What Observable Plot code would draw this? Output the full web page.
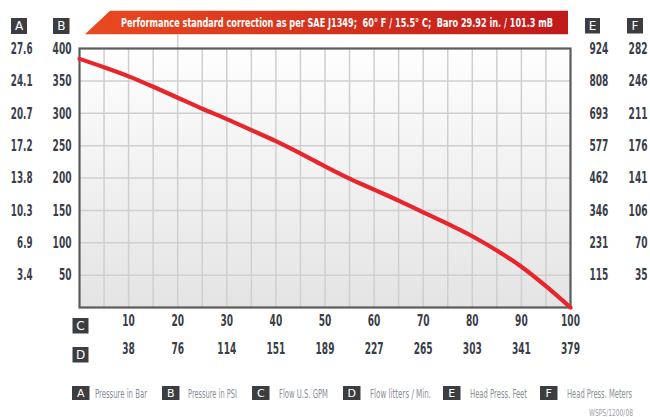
<!DOCTYPE html>
<html><head><meta charset="utf-8">
<script src="https://cdn.jsdelivr.net/npm/d3@7"></script>
<script src="https://cdn.jsdelivr.net/npm/@observablehq/plot@0.6"></script>
<style>
body{margin:0;background:#fff}
svg{display:block}
</style>
</head><body><div id="chart"></div>
<script>
// ---- data ----
const flowGPM      = [0, 5, 10, 15, 20, 25, 30, 35, 40, 45, 50, 55, 60, 65, 70, 75, 80, 85, 90, 95, 100];
const pressurePSI  = [384, 371, 357, 341, 324, 307, 291, 274, 257, 238, 218, 199, 182, 165, 147, 129, 110, 88, 63, 33, 0];
const psiTicks     = [50, 100, 150, 200, 250, 300, 350, 400];
const barLabels    = ["3.4", "6.9", "10.3", "13.8", "17.2", "20.7", "24.1", "27.6"];
const feetLabels   = ["115", "231", "346", "462", "577", "693", "808", "924"];
const meterLabels  = ["35", "70", "106", "141", "176", "211", "246", "282"];
const gpmTicks     = [10, 20, 30, 40, 50, 60, 70, 80, 90, 100];
const lpmLabels    = ["38", "76", "114", "151", "189", "227", "265", "303", "341", "379"];
const gridXTicks   = [5, 10, 15, 20, 25, 30, 35, 40, 45, 50, 55, 60, 65, 70, 75, 80, 85, 90, 95];
const titleText    = "Performance standard correction as per SAE J1349;  60° F / 15.5° C;  Baro 29.92 in. / 101.3 mB";
const legendKeys   = ["A", "B", "C", "D", "E", "F"];
const legendNames  = ["Pressure in Bar", "Pressure in PSI", "Flow U.S. GPM", "Flow litters / Min.", "Head Press. Feet", "Head Press. Meters"];
const footNote     = "WSPS/1200/08";

const curve = flowGPM.map((x, i) => ({x, y: pressurePSI[i]}));
const FONT = "'Liberation Sans Narrow','DejaVu Sans Condensed','Roboto Condensed',sans-serif";
const TICK = "#3a3d48";
const tickStyle = {fill: TICK, fontSize: 16.5, fontWeight: "bold"};

const chart = Plot.plot({
  width: 650, height: 417,
  marginTop: 48, marginLeft: 79, marginRight: 80, marginBottom: 110,
  x: {domain: [0, 100], axis: null},
  y: {domain: [0, 400], axis: null},
  style: {fontFamily: FONT, background: "#fff", overflow: "visible"},
  marks: [
    Plot.frame({fill: "url(#bgGrad)"}),
    Plot.gridX(gridXTicks, {stroke: "#cfcfcf", strokeOpacity: 1, strokeWidth: 1.5}),
    Plot.gridY(psiTicks.slice(0, -1), {stroke: "#cfcfcf", strokeOpacity: 1, strokeWidth: 1.5}),
    Plot.ruleX([20], {y1: 400, y2: 421, stroke: "#cfcfcf", strokeWidth: 1.5, clip: false}),
    Plot.frame({stroke: "#5b5b5b", strokeWidth: 2.2}),
    Plot.line(curve, {x: "x", y: "y", curve: "monotone-x", stroke: "#e8252a", strokeWidth: 4.2, strokeLinecap: "round"}),
    // left axes (A bar, B psi)
    Plot.text(psiTicks, {y: d => d, text: (d, i) => barLabels[i], frameAnchor: "left", dx: -47, textAnchor: "end", ...tickStyle}),
    Plot.text(psiTicks, {y: d => d, text: d => String(d), frameAnchor: "left", dx: -8, textAnchor: "end", ...tickStyle}),
    // right axes (E feet, F meters)
    Plot.text(psiTicks, {y: d => d, text: (d, i) => feetLabels[i], frameAnchor: "right", dx: 19, textAnchor: "start", ...tickStyle}),
    Plot.text(psiTicks, {y: d => d, text: (d, i) => meterLabels[i], frameAnchor: "right", dx: 77, textAnchor: "end", ...tickStyle}),
    // bottom axes (C gpm, D lpm)
    Plot.text(gpmTicks, {x: d => d, text: d => String(d), frameAnchor: "bottom", dy: 18, ...tickStyle}),
    Plot.text(gpmTicks, {x: d => d, text: (d, i) => lpmLabels[i], frameAnchor: "bottom", dy: 46, ...tickStyle})
  ]
});
document.getElementById("chart").appendChild(chart);

const svg = d3.select(chart);
// condense tick label glyphs to the narrow face of the original
svg.selectAll("g[aria-label='text'] text").each(function() {
  const s = this.textContent;
  let w = 0;
  for (const c of s) w += (c === "." ? 2.8 : 6.3);
  d3.select(this).attr("textLength", w).attr("lengthAdjust", "spacingAndGlyphs");
});

const defs = svg.insert("defs", ":first-child");
const bg = defs.append("linearGradient").attr("id", "bgGrad").attr("x1", 0).attr("y1", 0).attr("x2", 0).attr("y2", 1);
bg.append("stop").attr("offset", "0%").attr("stop-color", "#fefefe");
bg.append("stop").attr("offset", "100%").attr("stop-color", "#e4e4e4");
const rg = defs.append("linearGradient").attr("id", "banGrad").attr("x1", 0).attr("y1", 0).attr("x2", 1).attr("y2", 0);
rg.append("stop").attr("offset", "0%").attr("stop-color", "#ea4a1f");
rg.append("stop").attr("offset", "100%").attr("stop-color", "#c0191c");

// title banner
svg.append("polygon").attr("points", "85,34.3 110,10.7 568,10.7 568,34.3").attr("fill", "url(#banGrad)");
svg.append("text").attr("x", 121).attr("y", 27).attr("text-anchor", "start")
  .attr("textLength", 432).attr("lengthAdjust", "spacingAndGlyphs")
  .attr("font-family", FONT).attr("font-size", 13).attr("font-weight", "bold").attr("fill", "#fff")
  .text(titleText);

function badge(letter, x, y, w, h, fs) {
  svg.append("rect").attr("x", x).attr("y", y).attr("width", w).attr("height", h).attr("fill", "#3c3d40");
  svg.append("text").attr("x", x + w / 2).attr("y", y + h / 2 + fs * 0.36).attr("text-anchor", "middle")
    .attr("font-family", "'DejaVu Sans',sans-serif").attr("font-size", fs).attr("fill", "#fff").text(letter);
}
// axis badges
badge(legendKeys[0], 11, 18, 16, 16, 12);
badge(legendKeys[1], 53, 18, 16.5, 16, 12);
badge(legendKeys[4], 585, 18, 15, 15.5, 12);
badge(legendKeys[5], 627, 18, 16, 15.5, 12);
badge(legendKeys[2], 72.5, 318, 16, 15.5, 12);
badge(legendKeys[3], 72.5, 347, 16, 15.5, 12);

// legend row
const lgBadgeX = [72, 162, 252, 343, 443, 540];
const lgTextX  = [95, 188, 279, 370, 470, 567];
const lgTextW  = [52, 49, 49, 61, 57, 65];
legendKeys.forEach((k, i) => {
  badge(k, lgBadgeX[i], 386, 17.5, 14, 11);
  svg.append("text").attr("x", lgTextX[i]).attr("y", 398).attr("text-anchor", "start")
    .attr("textLength", lgTextW[i]).attr("lengthAdjust", "spacingAndGlyphs")
    .attr("font-family", FONT).attr("font-size", 12).attr("fill", "#8a8e99").text(legendNames[i]);
});
svg.append("text").attr("x", 589).attr("y", 416).attr("text-anchor", "start")
  .attr("textLength", 44).attr("lengthAdjust", "spacingAndGlyphs")
  .attr("font-family", FONT).attr("font-size", 8).attr("fill", "#9a9ea8").text(footNote);
</script>
</body></html>
